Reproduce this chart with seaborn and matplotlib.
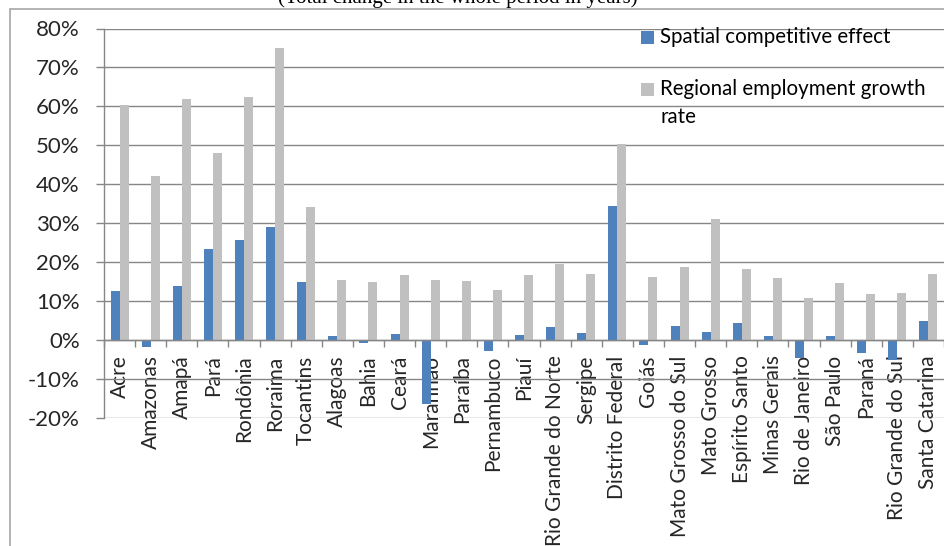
import numpy as np
import pandas as pd
import matplotlib
matplotlib.use("Agg")
import matplotlib.pyplot as plt
from matplotlib.patches import Rectangle
from matplotlib.ticker import FixedLocator, FuncFormatter
import seaborn as sns

# Brazilian states, in the order they appear on the axis
states = ["Acre", "Amazonas", "Amapá", "Pará", "Rondônia", "Roraima", "Tocantins",
          "Alagoas", "Bahia", "Ceará", "Maranhão", "Paraíba", "Pernambuco", "Piauí",
          "Rio Grande do Norte", "Sergipe", "Distrito Federal", "Goiás",
          "Mato Grosso do Sul", "Mato Grosso", "Espírito Santo", "Minas Gerais",
          "Rio de Janeiro", "São Paulo", "Paraná", "Rio Grande do Sul", "Santa Catarina"]

# Values in percent
spatial_effect = [12.5, -1.8, 13.9, 23.3, 25.8, 29.1, 14.9, 1.0, -0.8, 1.6, -16.5, 0.0,
                  -2.8, 1.3, 3.3, 1.9, 34.4, -1.2, 3.7, 2.0, 4.3, 1.0, -4.5, 1.1, -3.3,
                  -5.0, 4.9]
employment_growth = [60.3, 42.1, 62.0, 48.1, 62.4, 75.1, 34.2, 15.5, 15.0, 16.7, 15.4,
                     15.3, 12.8, 16.7, 19.5, 17.0, 50.3, 16.3, 18.8, 31.2, 18.3, 15.9,
                     10.8, 14.6, 11.8, 12.0, 16.9]

series_names = ["Spatial competitive effect", "Regional employment growth rate"]
y_ticks = list(range(-20, 81, 10))
title_text = "(Total change in the whole period in years)"

BLUE = "#4F81BD"
GREY = "#C0C0C0"
LINE = "#868686"
FRAME = "#A6A6A6"

df = pd.DataFrame({
    "state": states * 2,
    "series": [series_names[0]] * len(states) + [series_names[1]] * len(states),
    "value": spatial_effect + employment_growth,
})

sns.set_style("white")
plt.rcParams["font.family"] = ["Lato", "DejaVu Sans"]
plt.rcParams["text.color"] = "black"

W, H = 944, 546
fig = plt.figure(figsize=(W / 100, H / 100), dpi=100)
ax = fig.add_axes([104 / W, (H - 418) / H, 840 / W, (418 - 28.5) / H])

sns.barplot(data=df, x="state", y="value", hue="series", order=states,
            hue_order=series_names, palette=[BLUE, GREY], saturation=1,
            width=0.58, gap=0, linewidth=0, legend=False, ax=ax, zorder=2)

ax.set_xlim(-0.5, len(states) - 0.5)
ax.set_ylim(-20, 80)
ax.set_xlabel("")
ax.set_ylabel("")

# Gridlines and axes lines
ax.yaxis.set_major_locator(FixedLocator(y_ticks))
ax.yaxis.set_major_formatter(FuncFormatter(lambda v, _: f"{v:.0f}%"))
ax.grid(axis="y", color=LINE, linewidth=1.0, zorder=0)
ax.set_axisbelow(True)
for side in ("top", "right"):
    ax.spines[side].set_visible(False)
ax.spines["left"].set_color(LINE)
ax.spines["left"].set_linewidth(1.0)
ax.spines["bottom"].set_position(("data", 0))
ax.spines["bottom"].set_color(LINE)
ax.spines["bottom"].set_linewidth(1.0)
ax.spines["bottom"].set_zorder(3)

ax.tick_params(axis="y", direction="out", length=6, width=1.0, color=LINE,
               pad=11.5, labelsize=16, left=True)

ax.set_xticks(range(len(states)))
ax.set_xticklabels(states, rotation=90)
ax.xaxis.set_minor_locator(FixedLocator(np.arange(-0.5, len(states), 1.0)))
ax.tick_params(axis="x", which="major", length=0, pad=11, labelsize=15)
ax.tick_params(axis="x", which="minor", direction="out", length=5, width=1.0,
               color=LINE, bottom=True)

# Legend keys and labels
fs = 14.8
fig.add_artist(Rectangle((641 / W, 1 - 44 / H), 13 / W, 13 / H,
                         transform=fig.transFigure, facecolor=BLUE, edgecolor="none"))
fig.text(660 / W, 1 - 37 / H, series_names[0], ha="left", va="center", fontsize=fs)
fig.add_artist(Rectangle((641 / W, 1 - 96 / H), 13 / W, 13 / H,
                         transform=fig.transFigure, facecolor=GREY, edgecolor="none"))
fig.text(660 / W, 1 - 89 / H, "Regional employment growth", ha="left", va="center",
         fontsize=fs)
fig.text(660 / W, 1 - 117 / H, "rate", ha="left", va="center", fontsize=fs)

# Outer chart frame
fig.add_artist(Rectangle((10 / W, -0.05), 1.1, 1.05 - 9 / H,
                         transform=fig.transFigure, fill=False, edgecolor=FRAME,
                         linewidth=1.2))

# Heading above the chart area
fig.text(458 / W, 1 - 2.5 / H, title_text, ha="center", va="baseline",
         fontsize=15, family=["Liberation Serif", "DejaVu Serif"])

fig.savefig("out.png", dpi=100)
